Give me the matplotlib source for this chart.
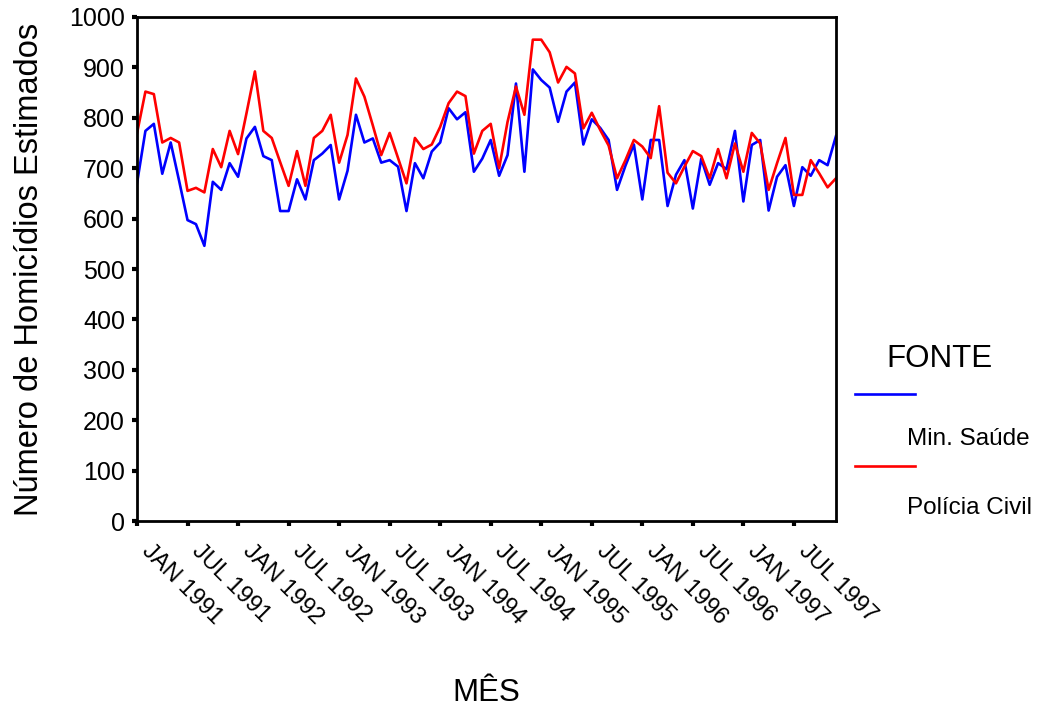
import numpy as np
import matplotlib
matplotlib.use('Agg')
import matplotlib.pyplot as plt
from matplotlib.lines import Line2D
from matplotlib.transforms import ScaledTranslation

plt.rcParams['font.family'] = ['Liberation Sans', 'DejaVu Sans']

# monthly estimates, Jan 1991 .. Dec 1997
min_saude = [670, 774, 788, 689, 751, 675, 597, 589, 546, 673, 657, 710,
             683, 759, 782, 724, 716, 615, 615, 678, 638, 716, 729, 746,
             638, 695, 806, 751, 759, 711, 716, 703, 615, 710, 680, 733,
             751, 819, 797, 811, 693, 719, 756, 685, 726, 868, 693, 896,
             875, 860, 792, 852, 870, 747, 797, 780, 756, 657, 705, 747,
             638, 756, 756, 625, 687, 716, 620, 719, 667, 710, 698, 774,
             634, 746, 756, 616, 683, 706, 625, 702, 685, 716, 706, 764]
policia_civil = [769, 852, 847, 751, 760, 751, 655, 661, 652, 738, 702, 774,
                 728, 809, 892, 774, 760, 712, 665, 734, 665, 760, 774, 806,
                 711, 766, 878, 842, 785, 726, 770, 720, 670, 760, 738, 747,
                 782, 829, 852, 843, 729, 774, 788, 700, 792, 862, 806, 955,
                 955, 930, 870, 901, 888, 779, 810, 776, 745, 680, 716, 756,
                 743, 720, 823, 691, 670, 703, 734, 724, 680, 738, 680, 749,
                 693, 770, 749, 657, 710, 760, 647, 647, 716, 690, 662, 680]
series_names = ['Min. Saúde', 'Polícia Civil']
series_colors = ['#0000ff', '#ff0000']
tick_labels = []
for yr in range(1991, 1998):
    tick_labels += ['JAN %d' % yr, 'JUL %d' % yr]

months = np.arange(len(min_saude))

fig = plt.figure(figsize=(10.45, 7.11), dpi=100)
ax = fig.add_axes([0.1311, 0.2672, 0.6689, 0.7089])

ax.plot(months, min_saude, color=series_colors[0], linewidth=1.9)
ax.plot(months, policia_civil, color=series_colors[1], linewidth=1.9)

ax.set_xlim(0, len(months) - 1)
ax.set_ylim(0, 1000)
ax.set_yticks(np.arange(0, 1001, 100))
ax.set_xticks(np.arange(0, len(months), 6))
ax.set_xticklabels(tick_labels, rotation=-45, ha='left', va='center',
                   rotation_mode='anchor', fontsize=17)
ax.tick_params(axis='y', labelsize=18, pad=5)
ax.tick_params(direction='out', length=3.6, width=3, color='black')
ax.tick_params(axis='x', pad=16)
shift = ScaledTranslation(0.08, 0, fig.dpi_scale_trans)
for lbl in ax.get_xticklabels():
    lbl.set_transform(lbl.get_transform() + shift)
for s in ax.spines.values():
    s.set_linewidth(2)

ax.set_ylabel('Número de Homicídios Estimados', fontsize=23.5)
ax.yaxis.set_label_coords(-0.154, 0.5)
ax.yaxis.label.set_va('center')
ax.set_xlabel('MÊS', fontsize=22.5)
ax.xaxis.set_label_coords(0.5, -0.341)
ax.xaxis.label.set_va('center')

# SPSS-style legend at the right
fig.text(0.899, 0.495, 'FONTE', fontsize=22.5, ha='center', va='center')
ys_line = [0.446, 0.3446]
ys_text = [0.3826, 0.2855]
for name, col, yl, yt in zip(series_names, series_colors, ys_line, ys_text):
    fig.add_artist(Line2D([0.818, 0.876], [yl, yl], color=col, linewidth=1.9,
                          transform=fig.transFigure))
    fig.text(0.868, yt, name, fontsize=17.5, ha='left', va='center')

fig.savefig('out.png', dpi=100)
